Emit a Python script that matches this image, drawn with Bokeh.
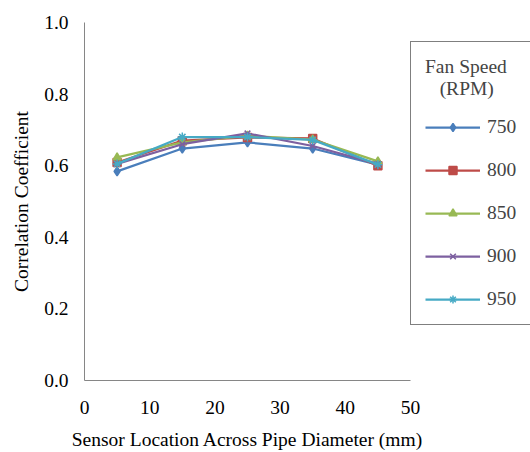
from bokeh.plotting import figure
from bokeh.models import Legend, LegendItem, NumeralTickFormatter, FixedTicker, Range1d
from bokeh.embed import file_html
from bokeh.resources import INLINE

# Sensor positions across the pipe diameter (mm)
sensor_mm = [5, 15, 25, 35, 45]

# Correlation coefficient per fan speed
fan_speeds = ["750", "800", "850", "900", "950"]
corr_750 = [0.584, 0.648, 0.665, 0.648, 0.603]
corr_800 = [0.609, 0.670, 0.679, 0.676, 0.600]
corr_850 = [0.623, 0.665, 0.684, 0.673, 0.612]
corr_900 = [0.605, 0.660, 0.690, 0.655, 0.605]
corr_950 = [0.605, 0.680, 0.680, 0.672, 0.603]
series = [corr_750, corr_800, corr_850, corr_900, corr_950]

colors = ["#4a7ebb", "#be4b48", "#98b954", "#7d60a0", "#46aac5"]
markers = ["diamond", "square", "triangle", "x", "asterisk"]
marker_sizes = [9, 8, 8, 8, 9]

FONT = "'Liberation Serif', 'Times New Roman', serif"
FSIZE = "19.5px"

p = figure(frame_width=326, frame_height=358, output_backend="svg",
           toolbar_location=None,
           x_range=Range1d(0, 50), y_range=Range1d(0, 1),
           min_border_left=84, min_border_top=22, min_border_bottom=72,
           min_border_right=0)
p.outline_line_color = None
p.xgrid.visible = False
p.ygrid.visible = False
p.background_fill_color = "white"
p.border_fill_color = "white"

for ax in (p.xaxis[0], p.yaxis[0]):
    ax.axis_line_color = "#868686"
    ax.axis_line_width = 1
    ax.major_tick_line_color = None
    ax.minor_tick_line_color = None
    ax.major_label_text_font = FONT
    ax.major_label_text_font_size = FSIZE
    ax.major_label_text_color = "black"
    ax.axis_label_text_font = FONT
    ax.axis_label_text_font_size = FSIZE
    ax.axis_label_text_font_style = "normal"
    ax.axis_label_text_color = "black"

p.xaxis.ticker = FixedTicker(ticks=[0, 10, 20, 30, 40, 50])
p.yaxis.ticker = FixedTicker(ticks=[0, 0.2, 0.4, 0.6, 0.8, 1.0])
p.yaxis.formatter = NumeralTickFormatter(format="0.0")
p.xaxis.axis_label = "Sensor Location Across Pipe Diameter (mm)"
p.yaxis.axis_label = "Correlation Coefficient"
p.yaxis.major_label_standoff = 10
p.xaxis.major_label_standoff = 14
p.yaxis.axis_label_standoff = 9
p.xaxis.axis_label_standoff = 12

items = []
for name, ys, c, m, s in zip(fan_speeds, series, colors, markers, marker_sizes):
    ln = p.line(sensor_mm, ys, line_color=c, line_width=2.25)
    mk = p.scatter(sensor_mm, ys, marker=m, size=s, fill_color=c, line_color=c,
                   line_width=1.5)
    items.append(LegendItem(label=name, renderers=[ln, mk]))

# second title line is nudged right with no-break spaces so it sits centred
legend = Legend(items=items, title="Fan Speed\n\u00a0\u00a0\u00a0(RPM)",
                location=(0, 55),
                title_text_font=FONT, title_text_font_size=FSIZE,
                title_text_font_style="normal",
                title_text_line_height=1.45, title_standoff=16,
                label_text_font=FONT, label_text_font_size=FSIZE,
                glyph_width=55, glyph_height=20, label_height=20,
                spacing=21, label_standoff=7, padding=14, margin=1,
                border_line_color="black", border_line_width=1,
                background_fill_alpha=1)
p.add_layout(legend, "right")

open("out.html", "w").write(file_html(p, INLINE))
